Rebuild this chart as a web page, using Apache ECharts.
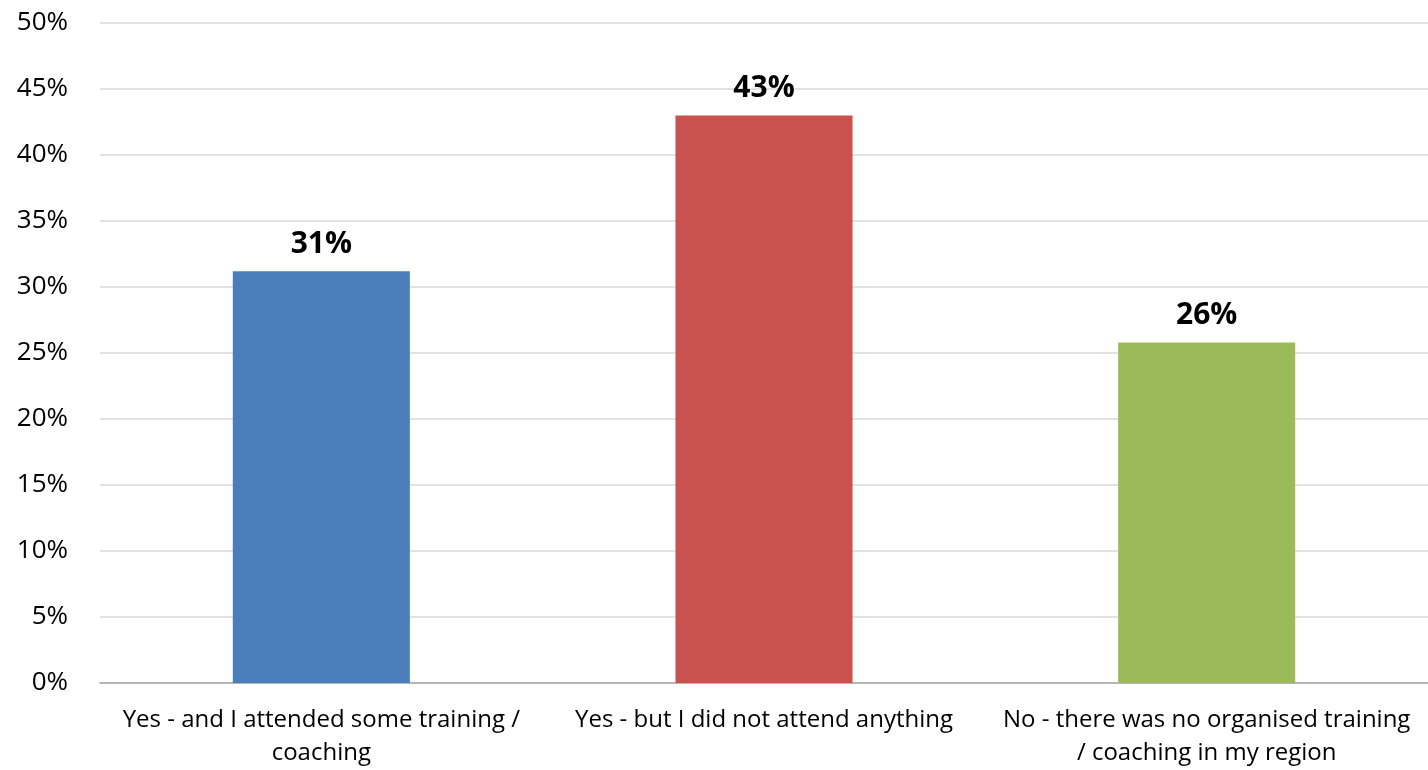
<!DOCTYPE html>
<html><head><meta charset="utf-8">
<script src="https://cdn.jsdelivr.net/npm/echarts@6/dist/echarts.min.js"></script>
<style>html,body{margin:0;padding:0;background:#fff}#c{width:1428px;height:770px}</style>
</head><body><div id="c"></div>
<script>
const categories = ["Yes - and I attended some training /\ncoaching", "Yes - but I did not attend anything", "No - there was no organised training\n/ coaching in my region"];
const values = [31.2, 43.0, 25.8];
const colors = ["#4A7EBB", "#C9524F", "#9BBB59"];
const yTicks = [0, 5, 10, 15, 20, 25, 30, 35, 40, 45, 50];

const chart = echarts.init(document.getElementById('c'));
chart.setOption({
  animation: false,
  grid: {left: 100, right: 0, top: 23, bottom: 85, containLabel: false},
  xAxis: {
    type: 'category', data: categories,
    axisLine: {lineStyle: {color: '#A6A6A6', width: 1.5}},
    axisTick: {show: false},
    axisLabel: {color: '#000', fontSize: 24, fontFamily: 'Open Sans, sans-serif', lineHeight: 33, margin: 21, interval: 0}
  },
  yAxis: {
    type: 'value', min: 0, max: yTicks[yTicks.length-1], interval: 5,
    axisLine: {show: false}, axisTick: {show: false},
    splitLine: {lineStyle: {color: '#D9D9D9', width: 1.5}},
    axisLabel: {color: '#000', fontSize: 26, fontFamily: 'Open Sans, sans-serif', margin: 32, formatter: v => v + '%'}
  },
  series: [{
    type: 'bar', barWidth: '40%',
    data: values.map((v, i) => ({value: v, itemStyle: {color: colors[i]}})),
    label: {show: true, position: 'top', distance: 12, color: '#000', fontSize: 30, fontWeight: 'bold', fontFamily: 'Open Sans, sans-serif',
      formatter: p => Math.round(p.value) + '%'}
  }]
});
</script></body></html>
